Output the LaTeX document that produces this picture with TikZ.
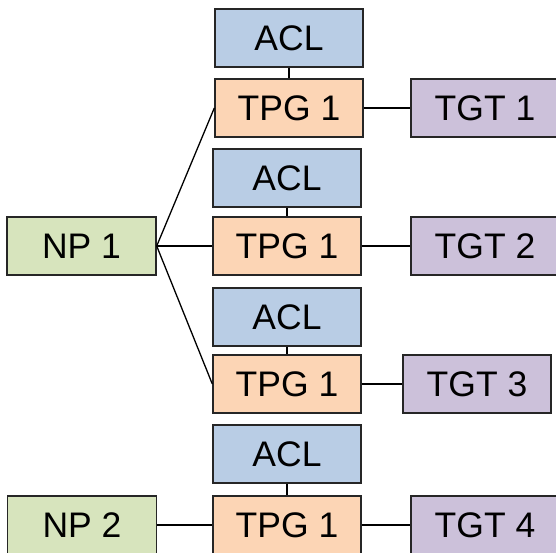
\documentclass[tikz,border=0pt]{standalone}
\usepackage{fontspec}
\setmainfont{Liberation Sans}
\definecolor{aclfill}{HTML}{B9CDE5}
\definecolor{tpgfill}{HTML}{FCD5B5}
\definecolor{tgtfill}{HTML}{CCC1DA}
\definecolor{npfill}{HTML}{D7E4BD}
\begin{document}
\begin{tikzpicture}[x=1pt,y=-1pt,
  box/.style={draw=black!85, line width=1.4pt, minimum width=148pt, minimum height=58pt,
              inner sep=0pt, font=\fontsize{35.5}{40}\selectfont},
  acl/.style={box, fill=aclfill},
  tpg/.style={box, fill=tpgfill},
  tgt/.style={box, fill=tgtfill},
  np/.style={box, fill=npfill, minimum width=149pt},
  link/.style={line width=1.3pt, black}]
\useasboundingbox (0,0) rectangle (556,553);
% group 1
\node[acl] (acl1) at (289,38) {ACL};
\node[tpg] (tpg1) at (289,108) {TPG 1};
\node[tgt] (tgt1) at (485,108) {TGT 1};
% group 2
\node[acl] (acl2) at (287,178) {ACL};
\node[tpg] (tpg2) at (287,246) {TPG 1};
\node[tgt] (tgt2) at (485,246) {TGT 2};
\node[np] (np1) at (81.5,246) {NP 1};
% group 3
\node[acl] (acl3) at (287,317) {ACL};
\node[tpg] (tpg3) at (287,384) {TPG 1};
\node[tgt] (tgt3) at (477,384) {TGT 3};
% group 4
\node[acl] (acl4) at (287,454) {ACL};
\node[tpg] (tpg4) at (287,525) {TPG 1};
\node[tgt] (tgt4) at (485,525) {TGT 4};
\node[np] (np2) at (82,525) {NP 2};
% connectors
\draw[link] (acl1.south) -- (tpg1.north);
\draw[link] (acl2.south) -- (tpg2.north);
\draw[link] (acl3.south) -- (tpg3.north);
\draw[link] (acl4.south) -- (tpg4.north);
\draw[link] (tpg1.east) -- (tgt1.west);
\draw[link] (tpg2.east) -- (tgt2.west);
\draw[link] (tpg3.east) -- (tgt3.west);
\draw[link] (tpg4.east) -- (tgt4.west);
\draw[link] (np1.east) -- (tpg1.west);
\draw[link] (np1.east) -- (tpg2.west);
\draw[link] (np1.east) -- (tpg3.west);
\draw[link] (np2.east) -- (tpg4.west);
\end{tikzpicture}
\end{document}
